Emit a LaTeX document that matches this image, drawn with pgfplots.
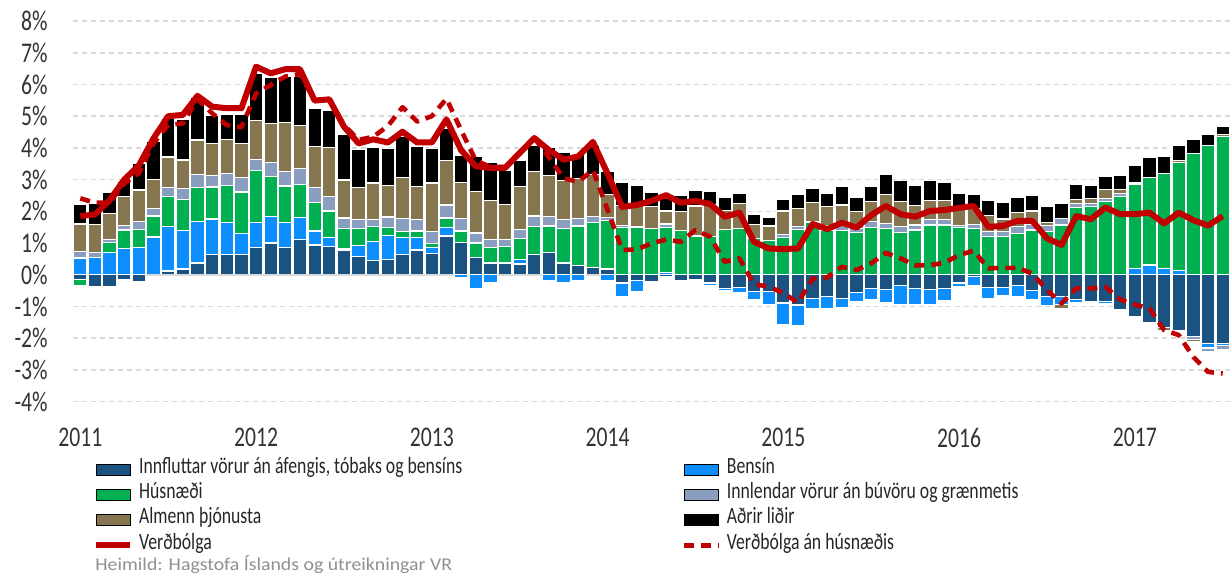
\documentclass[border=0pt]{standalone}
\usepackage{fontspec}
\setmainfont{Carlito}[FakeStretch=0.76]
\newfontfamily\srcfont{Carlito}[FakeStretch=1.1]
\usepackage{pgfplots}
\usepackage{pgfplotstable}
\pgfplotsset{compat=1.18}

\definecolor{cInn}{HTML}{1A5282}
\definecolor{cBen}{HTML}{0D8EFF}
\definecolor{cHus}{HTML}{00B050}
\definecolor{cInl}{HTML}{8A9FBF}
\definecolor{cAlm}{HTML}{857650}
\definecolor{cAdr}{HTML}{000000}
\definecolor{cRed}{HTML}{C00000}
\definecolor{cGrid}{HTML}{D9D9D9}
\definecolor{cSrc}{HTML}{8F8F8F}

% monthly contributions to 12-month inflation, Jan 2011 - Jul 2017 (signed)
\pgfplotstableread{
m  inn   ben   hus   innl  alm   adr   inf   infx
0  -0.16 0.53  -0.17 0.21  0.86  0.62  1.85  2.41
1  -0.38 0.55  0.00  0.14  0.90  0.67  1.90  2.27
2  -0.37 0.70  0.32  0.10  0.82  0.66  2.35  2.27
3  -0.14 0.83  0.58  0.14  0.92  0.47  3.00  2.88
4  -0.23 0.87  0.57  0.25  0.98  0.85  3.45  3.20
5  0.00  1.19  0.66  0.25  0.90  1.21  4.30  4.14
6  0.12  1.40  0.95  0.29  0.95  1.21  5.00  4.72
7  0.18  1.22  0.98  0.34  0.90  1.29  5.04  4.77
8  0.37  1.31  1.06  0.41  1.10  1.35  5.64  5.53
9  0.65  1.11  1.01  0.37  0.99  0.89  5.30  5.09
10 0.65  0.99  1.18  0.37  1.07  0.78  5.25  4.72
11 0.65  0.66  1.30  0.45  1.09  0.89  5.25  4.65
12 0.87  0.78  1.63  0.36  1.23  1.47  6.56  5.72
13 1.00  0.84  1.27  0.42  1.23  1.46  6.35  5.98
14 0.87  0.78  1.15  0.45  1.56  1.45  6.48  6.25
15 1.10  0.70  1.05  0.50  1.35  1.55  6.48  6.33
16 0.94  0.44  0.91  0.46  1.29  1.22  5.49  5.49
17 0.89  0.28  0.84  0.45  1.55  1.16  5.53  5.53
18 0.78  0.06  0.61  0.34  1.20  1.42  4.67  4.72
19 0.58  0.34  0.53  0.30  1.00  1.21  4.14  4.25
20 0.44  0.60  0.47  0.23  1.15  1.13  4.27  4.35
21 0.48  0.76  0.26  0.32  0.99  1.18  4.17  4.69
22 0.65  0.53  0.18  0.42  1.28  1.30  4.51  5.28
23 0.78  0.39  0.21  0.36  1.05  1.25  4.17  4.83
24 0.68  0.18  0.13  0.37  1.53  1.08  4.17  5.00
25 1.22  0.28  0.29  0.41  1.39  1.02  4.90  5.55
26 1.01  -0.09 0.37  0.39  1.15  0.85  3.93  4.56
27 0.55  -0.42 0.45  0.32  1.31  1.09  3.42  3.60
28 0.37  -0.26 0.49  0.25  1.24  1.18  3.37  3.40
29 0.37  0.00  0.53  0.21  1.10  1.07  3.37  3.40
30 0.34  0.13  0.68  0.28  1.35  0.83  3.84  3.84
31 0.65  0.00  0.86  0.34  1.40  0.82  4.31  4.31
32 0.70  -0.19 0.84  0.30  1.29  0.88  3.93  3.70
33 0.37  -0.26 1.09  0.28  1.23  0.89  3.63  3.04
34 0.29  -0.18 1.25  0.23  1.26  0.75  3.73  2.93
35 0.23  0.00  1.43  0.18  1.31  0.94  4.19  3.30
36 0.18  -0.18 1.52  0.10  0.73  0.73  3.19  2.05
37 -0.26 -0.42 1.49  0.06  0.63  0.73  2.14  0.78
38 -0.19 -0.35 1.49  0.03  0.66  0.65  2.20  0.80
39 -0.23 0.00  1.46  0.00  0.70  0.44  2.33  0.99
40 -0.06 0.06  1.44  0.10  0.41  0.39  2.51  1.11
41 -0.19 0.00  1.39  0.00  0.61  0.50  2.27  1.04
42 -0.14 0.00  1.22  0.00  0.95  0.50  2.33  1.41
43 -0.26 -0.07 1.21  0.00  1.00  0.42  2.23  1.20
44 -0.42 -0.07 1.44  0.00  0.58  0.41  1.83  0.41
45 -0.39 -0.16 1.46  0.00  0.78  0.34  1.96  0.52
46 -0.53 -0.24 1.15  0.00  0.44  0.31  1.04  -0.29
47 -0.53 -0.40 1.07  0.00  0.47  0.26  0.83  -0.38
48 -0.89 -0.68 1.17  0.10  0.74  0.36  0.81  -0.57
49 -0.95 -0.65 1.44  0.07  0.58  0.44  0.83  -0.88
50 -0.74 -0.34 1.64  0.05  0.58  0.45  1.60  -0.12
51 -0.68 -0.39 1.41  0.13  0.60  0.44  1.44  -0.08
52 -0.74 -0.29 1.39  0.16  0.65  0.60  1.64  0.25
53 -0.55 -0.28 1.34  0.13  0.53  0.44  1.49  0.15
54 -0.42 -0.35 1.50  0.19  0.63  0.46  1.88  0.36
55 -0.47 -0.42 1.46  0.16  0.90  0.63  2.17  0.69
56 -0.35 -0.59 1.34  0.18  0.79  0.65  1.91  0.52
57 -0.44 -0.49 1.41  0.16  0.61  0.63  1.83  0.30
58 -0.47 -0.46 1.57  0.18  0.60  0.63  2.01  0.30
59 -0.42 -0.40 1.57  0.18  0.60  0.55  2.04  0.38
60 -0.26 -0.11 1.49  0.07  0.60  0.42  2.11  0.62
61 -0.05 -0.29 1.46  0.13  0.49  0.44  2.17  0.76
62 -0.40 -0.35 1.20  0.16  0.50  0.48  1.51  0.20
63 -0.40 -0.27 1.20  0.16  0.40  0.53  1.54  0.22
64 -0.34 -0.34 1.31  0.20  0.45  0.47  1.70  0.22
65 -0.50 -0.29 1.41  0.18  0.42  0.49  1.70  0.04
66 -0.68 -0.28 1.36  0.20  0.08  0.53  1.15  -0.48
67 -0.68 -0.25 1.57  0.20  -0.13 0.49  0.94  -0.90
68 -0.77 -0.12 2.12  0.13  0.13  0.47  1.85  -0.43
69 -0.86 -0.06 2.15  0.10  0.16  0.42  1.75  -0.43
70 -0.84 -0.08 2.30  0.10  0.29  0.40  2.12  -0.38
71 -1.10 0.00  2.46  0.09  0.14  0.45  1.91  -0.78
72 -1.31 0.19  2.67  0.05  -0.04 0.53  1.91  -0.94
73 -1.52 0.31  2.75  0.00  0.00  0.63  1.96  -1.06
74 -1.66 0.20  2.99  0.00  -0.10 0.53  1.62  -1.74
75 -1.77 0.13  3.42  -0.05 0.05  0.47  1.96  -1.90
76 -1.95 0.00  3.83  -0.08 -0.08 0.45  1.72  -2.59
77 -2.16 -0.15 4.07  -0.12 0.00  0.37  1.55  -3.06
78 -2.16 -0.07 4.35  -0.13 0.08  0.24  1.85  -3.11
}\vbdata

\pgfplotsset{
  base/.style={scale only axis, width=578.5pt, height=190.35pt,
    xmin=-0.5, xmax=78.5, ymin=-4, ymax=8, at={(0,0)}, anchor=south west},
  seg/.style={fill=#1, draw=white, line width=0.6pt},
}

\begin{document}
\begin{tikzpicture}
% positive parts, grid and tick labels
\begin{axis}[base, ybar stacked, bar width=0.92,
    axis line style={draw=none}, major tick length=0pt,
    ymajorgrids, grid style={cGrid, line width=0.8pt, dash pattern=on 2.5pt off 2pt},
    ytick={-4,-3,...,8},
    yticklabel={\pgfmathprintnumber{\tick}\%},
    /pgf/number format/assume math mode=true,
    xtick={0,12,...,72}, xticklabels={2011,2012,2013,2014,2015,2016,2017},
    tick label style={font=\fontsize{14.25}{15}\selectfont, text=black!80},
    yticklabel style={inner sep=0pt, anchor=east, xshift=-12.5pt},
    xticklabel style={inner sep=0pt, anchor=north, yshift=-13.2pt},
]
\draw[cGrid, line width=1pt] (axis cs:-0.5,0) -- (axis cs:78.5,0);
\addplot[seg=cInn] table[x=m, y expr={max(\thisrow{inn},0)}] {\vbdata};
\addplot[seg=cBen] table[x=m, y expr={max(\thisrow{ben},0)}] {\vbdata};
\addplot[seg=cHus] table[x=m, y expr={max(\thisrow{hus},0)}] {\vbdata};
\addplot[seg=cInl] table[x=m, y expr={max(\thisrow{innl},0)}] {\vbdata};
\addplot[seg=cAlm] table[x=m, y expr={max(\thisrow{alm},0)}] {\vbdata};
\addplot[seg=cAdr] table[x=m, y expr={max(\thisrow{adr},0)}] {\vbdata};
\end{axis}

% negative parts
\begin{axis}[base, hide axis, ybar stacked, bar width=0.92]
\addplot[seg=cInn] table[x=m, y expr={min(\thisrow{inn},0)}] {\vbdata};
\addplot[seg=cBen] table[x=m, y expr={min(\thisrow{ben},0)}] {\vbdata};
\addplot[seg=cHus] table[x=m, y expr={min(\thisrow{hus},0)}] {\vbdata};
\addplot[seg=cInl] table[x=m, y expr={min(\thisrow{innl},0)}] {\vbdata};
\addplot[seg=cAlm] table[x=m, y expr={min(\thisrow{alm},0)}] {\vbdata};
\addplot[seg=cAdr] table[x=m, y expr={min(\thisrow{adr},0)}] {\vbdata};
\end{axis}

% inflation lines and legend
\begin{axis}[base, hide axis,
    legend columns=2, legend cell align=left,
    legend style={at={(axis description cs:0.01729,-0.1453)}, anchor=north west,
      draw=none, fill=none, inner sep=0pt, outer sep=0pt, row sep=0pt,
      font=\fontsize{11.65}{12.6}\selectfont, text=black!85,
      nodes={inner sep=0pt, text height=8.2pt, text depth=4.4pt},
      /tikz/every odd column/.append style={column sep=3pt}},
]
\addlegendimage{area legend, fill=cInn, draw=none}
\addlegendentry{\makebox[271.5pt][l]{Innfluttar vörur án áfengis, tóbaks og bensíns}}
\addlegendimage{area legend, fill=cBen, draw=none}
\addlegendentry{Bensín}
\addlegendimage{area legend, fill=cHus, draw=none}
\addlegendentry{\makebox[271.5pt][l]{Húsnæði}}
\addlegendimage{area legend, fill=cInl, draw=none}
\addlegendentry{Innlendar vörur án búvöru og grænmetis}
\addlegendimage{area legend, fill=cAlm, draw=none}
\addlegendentry{\makebox[271.5pt][l]{Almenn þjónusta}}
\addlegendimage{area legend, fill=cAdr, draw=none}
\addlegendentry{Aðrir liðir}
\addplot[cRed, line width=3pt, line join=round, no marks] table[x=m, y=inf] {\vbdata};
\addlegendentry{\makebox[271.5pt][l]{Verðbólga}}
\addplot[cRed, line width=2.3pt, line join=round, no marks, dash pattern=on 5pt off 3.5pt] table[x=m, y=infx] {\vbdata};
\addlegendentry{Verðbólga án húsnæðis}
\end{axis}

\node[anchor=base west, inner sep=0pt, text=cSrc] at (11pt,-84.65pt)
  {\srcfont\fontsize{9}{10}\selectfont Heimild: Hagstofa Íslands og útreikningar VR};

\pgfresetboundingbox
\useasboundingbox (-36.5pt,-87.15pt) rectangle (579.5pt,200.85pt);
\end{tikzpicture}
\end{document}
